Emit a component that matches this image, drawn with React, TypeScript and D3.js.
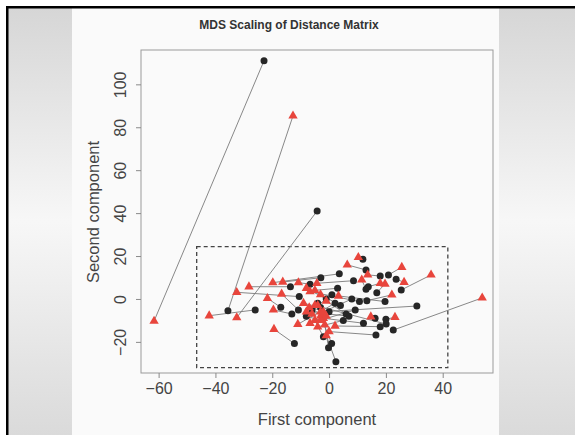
import React, { useEffect, useRef } from 'react';
import * as d3 from 'd3';

// first configuration (black circles)
const blackX = [-22.9, -35.6, -4.2, -26, -12.2, 22.6, 11.9, 13, 20.9, 25.4, 23.6, 3.6, -2.9, -13.6, -6.7, 8.6, 18, 13.8, 16.8, 13, -10.5, -17, -13.1, -10.8, 30.9, 9.2, 13.3, 10.7, 19.7, 2.1, 16.2, 20, 12.1, 18, 20.1, 16.5, -2, 0.9, -0.2, 2.4, -1, -3, 0, 4, 6, -4, 1, 8, 5, -6, 3, -8, 7];
const blackY = [111, -5.5, 41, -5.1, -20.8, -14.5, 18.5, 13.5, 11.2, 4.2, 9.2, 11.7, 9.9, 5.7, 6.9, 8.5, 10.7, 5.7, 2.9, 4.5, 1.1, -3.9, -7, -5.1, -3.3, -5.1, -0.8, -1.2, -1.2, -2, -9, -9.5, -11.3, -12.9, -11.7, -16.8, -17.6, -20.7, -22.7, -29.2, 0, -4, -6, -3, -7, -2, 2, 0, -10, -5, 5, -8, -8];
// second configuration (red triangles)
const redX = [-61.6, -12.7, -32.5, -42.2, -19.4, 53.9, 10.3, 6.4, 25.6, 35.9, 26.4, -19.8, -16.3, -28.2, -10.8, -4.3, 13.6, 18, 19.7, 11.5, -32.5, -21.7, -19.6, -16.7, -3, -6.7, 22.1, -6.7, 3.3, -11, 14.7, 23.2, -2, 2.1, -5, 0, -5, -3, -1.5, -1, -8, -9, -7, -3, -1, -6, -4, -2, -4, -1, -5, -3, -8];
const redY = [-10.3, 85.3, -8.7, -7.8, -14.1, 0.5, 19.4, 15.9, 14.8, 11.2, 7.8, 7.6, 7.9, 5.7, 7.6, 7.3, 11.2, 7.3, 7, 8.9, 3.1, 0.3, -5.1, 2.3, -6, -11.3, 1.9, 3.4, 1.4, -11.8, -8.3, -8.5, -9, -12.6, -3, -15.2, -10, -8, -12, -17, 5, -2, -4, 2, -1, -7, -3, -6, -13, -8, 4, -10, -6];

const xTicks = [-60, -40, -20, 0, 20, 40];
const yTicks = [-20, 0, 20, 40, 60, 80, 100];
const boxX = [-46.6, 41.8];
const boxY = [-32, 24.4];

const W = 575;
const H = 435;
const font = 'Liberation Sans, Arial, sans-serif';

const App: React.FC = () => {
  const svgRef = useRef<SVGSVGElement>(null);

  useEffect(() => {
    if (!svgRef.current) return;
    const svg = d3.select(svgRef.current);
    svg.selectAll('*').remove();

    // background frame
    const defs = svg.append('defs');
    const grad = defs.append('linearGradient').attr('id', 'side').attr('x1', 0).attr('y1', 0).attr('x2', 0).attr('y2', 1);
    grad.append('stop').attr('offset', '0%').attr('stop-color', '#d6d6d6');
    grad.append('stop').attr('offset', '50%').attr('stop-color', '#f7f7f7');
    grad.append('stop').attr('offset', '100%').attr('stop-color', '#dadada');

    svg.append('rect').attr('width', W).attr('height', H).attr('fill', '#ffffff');
    svg.append('rect').attr('x', 8).attr('y', 8).attr('width', W - 8).attr('height', H - 8).attr('fill', 'url(#side)');
    svg.append('rect').attr('x', 72).attr('y', 8).attr('width', 427).attr('height', H - 8).attr('fill', '#fafafa');
    svg.append('rect').attr('x', 6).attr('y', 6).attr('width', W - 6).attr('height', 2.5).attr('fill', '#000');
    svg.append('rect').attr('x', 6).attr('y', 6).attr('width', 2.5).attr('height', H - 6).attr('fill', '#000');

    const x = d3.scaleLinear().domain([-66.2, 57.7]).range([141, 493]);
    const y = d3.scaleLinear().domain([-34.5, 116]).range([373, 50]);

    // title
    svg.append('text')
      .attr('x', 289).attr('y', 29)
      .attr('text-anchor', 'middle')
      .attr('font-family', font).attr('font-size', 12).attr('font-weight', 'bold')
      .attr('fill', '#333')
      .text('MDS Scaling of Distance Matrix');

    // plot box
    svg.append('rect')
      .attr('x', 141).attr('y', 50).attr('width', 352).attr('height', 323)
      .attr('fill', 'none').attr('stroke', '#9a9a9a').attr('stroke-width', 1);

    // x axis
    const xa = svg.append('g')
      .attr('transform', 'translate(0,373)')
      .call(d3.axisBottom(x).tickValues(xTicks).tickSize(5).tickPadding(5).tickFormat(d3.format('d')));
    xa.select('.domain').remove();
    xa.selectAll('line').attr('stroke', '#8a8a8a');
    xa.selectAll('text').attr('font-family', font).attr('font-size', 16).attr('fill', '#444');

    // y axis
    const ya = svg.append('g')
      .attr('transform', 'translate(141,0)')
      .call(d3.axisLeft(y).tickValues(yTicks).tickSize(5).tickFormat(d3.format('d')));
    ya.select('.domain').remove();
    ya.selectAll('line').attr('stroke', '#8a8a8a');
    ya.selectAll('text')
      .attr('font-family', font).attr('font-size', 16).attr('fill', '#444')
      .attr('text-anchor', 'middle')
      .attr('x', 0).attr('dy', 0)
      .attr('transform', 'translate(-15,0) rotate(-90)');

    // axis titles
    svg.append('text')
      .attr('x', 317).attr('y', 425)
      .attr('text-anchor', 'middle')
      .attr('font-family', font).attr('font-size', 16.5).attr('fill', '#444')
      .text('First component');
    svg.append('text')
      .attr('transform', 'translate(99,212) rotate(-90)')
      .attr('text-anchor', 'middle')
      .attr('font-family', font).attr('font-size', 16.5).attr('fill', '#444')
      .text('Second component');

    // dashed region
    svg.append('rect')
      .attr('x', x(boxX[0])).attr('y', y(boxY[1]))
      .attr('width', x(boxX[1]) - x(boxX[0])).attr('height', y(boxY[0]) - y(boxY[1]))
      .attr('fill', 'none').attr('stroke', '#444').attr('stroke-width', 1.3)
      .attr('stroke-dasharray', '4,3');

    const idx = d3.range(blackX.length);

    // links between configurations
    svg.append('g').selectAll('line')
      .data(idx).enter().append('line')
      .attr('x1', (i) => x(blackX[i])).attr('y1', (i) => y(blackY[i]))
      .attr('x2', (i) => x(redX[i])).attr('y2', (i) => y(redY[i]))
      .attr('stroke', '#7a7a7a').attr('stroke-width', 0.9);

    svg.append('g').selectAll('circle')
      .data(idx).enter().append('circle')
      .attr('cx', (i) => x(blackX[i])).attr('cy', (i) => y(blackY[i]))
      .attr('r', 3.5).attr('fill', '#262626');

    const tri = d3.symbol().type(d3.symbolTriangle).size(38);
    svg.append('g').selectAll('path')
      .data(idx).enter().append('path')
      .attr('d', tri)
      .attr('transform', (i) => `translate(${x(redX[i])},${y(redY[i])})`)
      .attr('fill', '#e8453c');
  }, []);

  return (
    <svg
      ref={svgRef}
      width={W}
      height={H}
      style={{ position: 'absolute', left: 0, top: 0 }}
    />
  );
};

export default App;
